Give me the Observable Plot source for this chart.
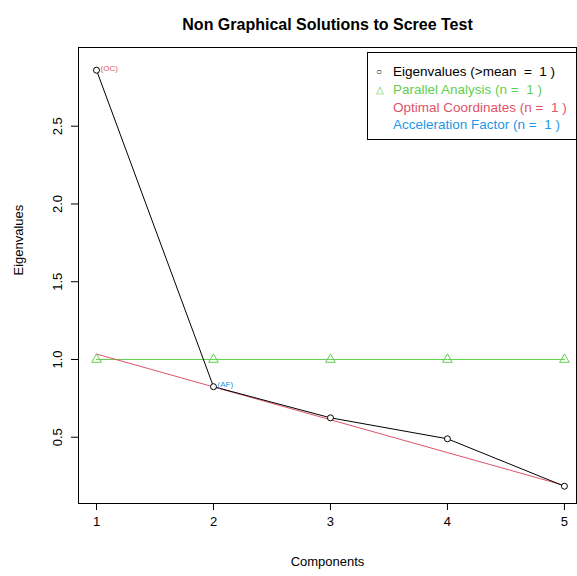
<!DOCTYPE html>
<html><head>
<script src="https://cdn.jsdelivr.net/npm/d3@7"></script>
<script src="https://cdn.jsdelivr.net/npm/@observablehq/plot@0.6"></script>
<style>
body{margin:0;background:#fff;font-family:"Liberation Sans",Arial,sans-serif}
#wrap{position:relative;width:577px;height:576px}
#legend{position:absolute;left:367px;top:52px;width:210px;height:88px;border:1px solid #000;background:#fff;box-sizing:border-box;font-size:13.5px;line-height:17.8px;padding-top:10px}
#legend div{position:relative;padding-left:25px;white-space:pre}
#legend span{position:absolute;left:8px;top:0}
</style>
</head><body>
<div id="wrap"></div>
<script>
const components = [1, 2, 3, 4, 5];
const eigenvalues = [2.86, 0.825, 0.625, 0.49, 0.185];
const parallel = [1.0, 1.0, 1.0, 1.0, 1.0];
const ocLine = [1.035, 0.19];
const yTicks = [0.5, 1.0, 1.5, 2.0, 2.5];
const legendItems = ["Eigenvalues (>mean  =  1 )", "Parallel Analysis (n =  1 )", "Optimal Coordinates (n =  1 )", "Acceleration Factor (n =  1 )"];
const green = "#61D04F", red = "#DF536B", blue = "#2297E6";

const eig = components.map((c, i) => ({x: c, y: eigenvalues[i]}));
const par = components.map((c, i) => ({x: c, y: parallel[i]}));
const oc = [{x: components[0], y: ocLine[0]}, {x: components[4], y: ocLine[1]}];

const plot = Plot.plot({
  width: 577, height: 576,
  marginLeft: 78, marginRight: 1, marginTop: 47, marginBottom: 73,
  style: {fontFamily: "Liberation Sans, Arial, sans-serif", fontSize: "13px", background: "#fff", color: "#000"},
  x: {domain: [0.846, 5.103]},
  y: {domain: [0.074, 3.006]},
  marks: [
    Plot.frame({stroke: "#000"}),
    Plot.axisX({ticks: components, tickFormat: d => d, tickSize: 7, tickPadding: 6, fontSize: 13, label: null}),
    Plot.axisY({ticks: yTicks, tickFormat: d => d.toFixed(1), tickSize: 7, tickPadding: 10, tickRotate: -90, textAnchor: "middle", fontSize: 13, label: null}),
    Plot.line(par, {x: "x", y: "y", stroke: green, strokeWidth: 1}),
    Plot.line(oc, {x: "x", y: "y", stroke: red, strokeWidth: 1}),
    Plot.line(eig, {x: "x", y: "y", stroke: "#000", strokeWidth: 1}),
    Plot.dot(eig, {x: "x", y: "y", r: 3, stroke: "#000", fill: "#fff", strokeWidth: 1}),
    Plot.dot(par, {x: "x", y: "y", r: 3.6, symbol: "triangle", stroke: green, fill: "none", strokeWidth: 1}),
    Plot.text([eig[0]], {x: "x", y: "y", text: ["(OC)"], fill: red, fontSize: 8, textAnchor: "start", dx: 4, dy: -2}),
    Plot.text([eig[1]], {x: "x", y: "y", text: ["(AF)"], fill: blue, fontSize: 8, textAnchor: "start", dx: 4, dy: -2}),
    Plot.text(["Non Graphical Solutions to Scree Test"], {frameAnchor: "top", dy: -29, fontWeight: "bold", fontSize: 16}),
    Plot.text(["Components"], {frameAnchor: "bottom", dy: 62, fontSize: 13}),
    Plot.text(["Eigenvalues"], {frameAnchor: "left", dx: -60, rotate: -90, fontSize: 13})
  ]
});
const wrap = document.getElementById("wrap");
wrap.appendChild(plot);
const lg = document.createElement("div");
lg.id = "legend";
const cols = ["#000", green, red, blue];
const syms = ["○", "△", "", ""];
lg.innerHTML = legendItems.map((t, i) => `<div style="color:${cols[i]}"><span style="font-size:10px">${syms[i]}</span>${t}</div>`).join("");
wrap.appendChild(lg);
</script>
</body></html>
